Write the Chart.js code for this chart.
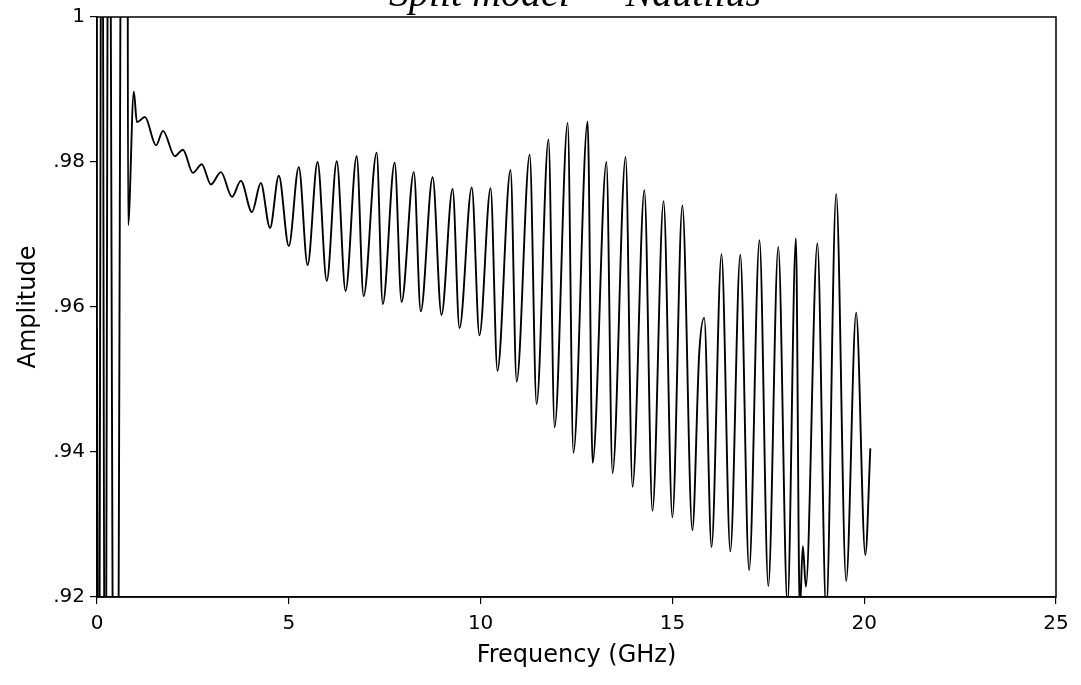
<!DOCTYPE html>
<html>
<head>
<meta charset="utf-8">
<title>Amplitude vs Frequency</title>
<script src="https://cdn.jsdelivr.net/npm/chart.js@4.4.1/dist/chart.umd.min.js"></script>
<style>
    html, body { margin: 0; padding: 0; background: #fff; }
    #wrap { width: 1081px; height: 685px; position: relative; }
</style>
</head>
<body>
<div id="wrap"><canvas id="amp-chart"></canvas></div>
<script>
// Frequency (GHz) of each point
const freq = [
    0.00, 0.04, 0.13, 0.21, 0.31, 0.45, 0.52, 0.66, 0.79, 0.81,
    0.96, 1.04, 1.25, 1.54, 1.72, 2.03, 2.24, 2.50, 2.73, 2.97,
    3.23, 3.52, 3.75, 4.04, 4.27, 4.51, 4.74, 5.00, 5.26, 5.49,
    5.75, 5.99, 6.25, 6.48, 6.77, 6.95, 7.29, 7.45, 7.76, 7.94,
    8.26, 8.44, 8.75, 8.98, 9.27, 9.45, 9.77, 9.97, 10.26, 10.44,
    10.78, 10.94, 11.28, 11.46, 11.77, 11.93, 12.27, 12.42, 12.79, 12.92,
    13.28, 13.44, 13.78, 13.96, 14.27, 14.48, 14.77, 15.00, 15.26, 15.52,
    15.70, 15.83, 16.02, 16.28, 16.51, 16.77, 17.00, 17.27, 17.50, 17.76,
    18.00, 18.22, 18.32, 18.40, 18.48, 18.78, 19.01, 19.27, 19.53, 19.79,
    20.03, 20.16
];

// Amplitude at each of those frequencies
const amp = [
    0.957, 0.880, 1.050, 0.880, 1.050, 0.880, 0.880, 1.050, 1.050, 0.9713,
    0.9897, 0.9855, 0.9862, 0.9823, 0.9843, 0.9808, 0.9817, 0.9785, 0.9797, 0.9769,
    0.9786, 0.9752, 0.9774, 0.9731, 0.9771, 0.9709, 0.9781, 0.9684, 0.9793, 0.9658,
    0.9800, 0.9636, 0.9801, 0.9622, 0.9808, 0.9615, 0.9813, 0.9604, 0.9799, 0.9607,
    0.9786, 0.9594, 0.9779, 0.9589, 0.9763, 0.9571, 0.9765, 0.9561, 0.9764, 0.9512,
    0.9789, 0.9497, 0.9810, 0.9466, 0.9831, 0.9434, 0.9854, 0.9399, 0.9856, 0.9385,
    0.9800, 0.9371, 0.9807, 0.9352, 0.9761, 0.9319, 0.9746, 0.9310, 0.9740, 0.9292,
    0.9537, 0.9585, 0.9269, 0.9673, 0.9263, 0.9672, 0.9237, 0.9692, 0.9215, 0.9683,
    0.9190, 0.9695, 0.9180, 0.9270, 0.9214, 0.9688, 0.9180, 0.9756, 0.9222, 0.9592,
    0.9258, 0.9405
];

// Axis ticks
const xTicks = [0, 5, 10, 15, 20, 25];
const yTicks = [0.92, 0.94, 0.96, 0.98, 1];
const yTickLabels = ['.92', '.94', '.96', '.98', '1'];

const FONT = "'DejaVu Sans', sans-serif";

// Box around the plot area plus the clipped title at the very top
const framePlugin = {
    id: 'frame',
    afterDraw(chart) {
        const { ctx, chartArea: a } = chart;
        ctx.save();
        ctx.strokeStyle = '#000';
        ctx.lineWidth = 1.5;
        ctx.strokeRect(a.left, a.top, a.right - a.left, a.bottom - a.top);
        ctx.fillStyle = '#000';
        ctx.font = "italic 40px 'Liberation Serif', serif";
        ctx.textAlign = 'center';
        ctx.textBaseline = 'alphabetic';
        ctx.fillText('Split model \u2014 Nautilus', 575, 6);
        ctx.restore();
    }
};

const points = freq.map((f, i) => ({ x: f, y: amp[i] }));

new Chart(document.getElementById('amp-chart'), {
    type: 'line',
    data: {
        datasets: [{
            data: points,
            borderColor: '#000',
            borderWidth: 1.9,
            pointRadius: 0,
            fill: false,
            cubicInterpolationMode: 'monotone',
            clip: 0
        }]
    },
    options: {
        responsive: true,
        maintainAspectRatio: false,
        animation: false,
        events: [],
        layout: { padding: { left: 0, right: 25, top: 17, bottom: 0 } },
        plugins: {
            legend: { display: false },
            tooltip: { enabled: false }
        },
        scales: {
            x: {
                type: 'linear',
                min: 0,
                max: 25,
                afterBuildTicks: scale => { scale.ticks = xTicks.map(v => ({ value: v })); },
                afterFit: scale => { scale.height = 88; },
                grid: { drawOnChartArea: false, drawTicks: true, tickLength: 7, color: '#000', lineWidth: 1.2 },
                border: { display: true, color: '#000', width: 1.5 },
                ticks: { color: '#000', font: { family: FONT, size: 20 }, padding: 8, maxRotation: 0 },
                title: {
                    display: true,
                    text: 'Frequency (GHz)',
                    color: '#000',
                    font: { family: FONT, size: 24 },
                    padding: { top: 0, bottom: 15 }
                }
            },
            y: {
                type: 'linear',
                min: 0.92,
                max: 1,
                afterBuildTicks: scale => { scale.ticks = yTicks.map(v => ({ value: v })); },
                afterFit: scale => { scale.width = 97; },
                grid: { drawOnChartArea: false, drawTicks: true, tickLength: 7, color: '#000', lineWidth: 1.2 },
                border: { display: true, color: '#000', width: 1.5 },
                ticks: {
                    color: '#000',
                    font: { family: FONT, size: 20 },
                    padding: 5,
                    callback: (value, index) => yTickLabels[index]
                },
                title: {
                    display: true,
                    text: 'Amplitude',
                    color: '#000',
                    font: { family: FONT, size: 24 },
                    padding: { top: 14, bottom: 0 }
                }
            }
        }
    },
    plugins: [framePlugin]
});
</script>
</body>
</html>
